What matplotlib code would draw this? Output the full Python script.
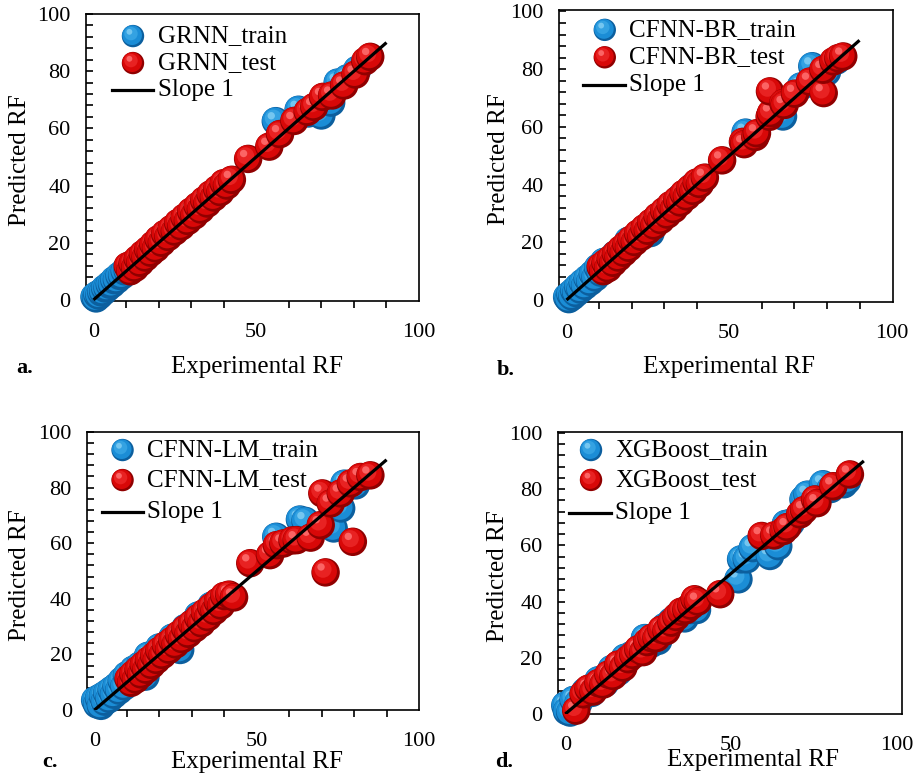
import numpy as np
import matplotlib
matplotlib.use("Agg")
import matplotlib.pyplot as plt
from matplotlib.path import Path
from matplotlib.collections import PathCollection
from matplotlib.transforms import IdentityTransform
from matplotlib.ticker import MultipleLocator, FixedLocator
from matplotlib.colors import to_rgb

plt.rcParams['font.family'] = ['Liberation Serif', 'DejaVu Serif']

# ---- data ----
models = ['GRNN', 'CFNN-BR', 'CFNN-LM', 'XGBoost']
panel_tags = ['a.', 'b.', 'c.', 'd.']
slope_line = [0, 90]

grnn_train_x = [0.3, 0.8, 1.2, 1.8, 2.4, 3.0, 3.6, 4.3, 5.0, 5.7, 6.4, 7.2, 8.0, 8.8, 9.6, 10.5,
                12, 14, 16, 18, 20, 22, 24, 26, 28, 30, 32, 34, 36, 38, 40,
                56, 63, 66, 70, 73, 75, 78, 81]
grnn_train_y = [1.0, 0.5, 1.8, 1.5, 2.6, 2.8, 4.0, 4.2, 5.3, 5.5, 6.9, 7.0, 8.4, 8.5, 10.0, 10.2,
                12.3, 13.8, 16.2, 17.9, 20.3, 21.8, 24.2, 25.9, 28.2, 29.8, 32.3, 33.7, 36.2, 37.8, 40.1,
                62.5, 66.5, 65.2, 64.5, 69.0, 76.0, 77.5, 80.5]
grnn_test_x = [10.5, 11.3, 12.0, 12.8, 13.6, 14.4, 15.2, 16.0, 16.8, 17.6, 18.4, 19.2, 20.0, 21, 22, 23,
               24, 25, 26, 27, 28, 29, 30, 31, 32, 33, 34, 35, 36, 37, 38, 39, 40, 41, 42.5,
               47.5, 54, 57.3, 61.7, 65.8, 67.8, 70.5, 73.3, 77, 80.5, 83.5, 85]
grnn_test_y = [11.8, 10.0, 12.6, 11.2, 14.3, 13.0, 16.0, 14.8, 17.5, 16.5, 19.3, 18.0, 21.2, 20.0, 23.1, 22.0,
               24.8, 23.9, 26.9, 25.7, 28.8, 27.6, 30.9, 29.5, 32.8, 31.6, 34.8, 33.7, 36.9, 35.8, 38.7, 37.7,
               40.8, 40.0, 42.0, 49.3, 53.6, 58.0, 62.6, 65.8, 67.5, 71.0, 71.5, 75.0, 78.8, 83.5, 85.0]

br_train_x = [0.2, 0.7, 1.2, 1.8, 2.4, 3.0, 3.6, 4.3, 5.0, 5.7, 6.5, 7.3, 8.1, 8.9, 9.7, 10.5,
              11.5, 13, 15, 17, 19, 21, 23, 25.8, 27, 29, 31, 33, 35, 37, 39, 41,
              55, 66.5, 72, 75.5, 80, 83]
br_train_y = [1.0, 0.3, 2.0, 1.2, 3.2, 2.4, 4.6, 3.6, 6.0, 4.9, 7.4, 6.3, 9.0, 7.8, 11.2, 9.5,
              13.2, 12.0, 15.8, 16.2, 20.5, 21.0, 23.5, 23.2, 27.5, 28.5, 31.5, 32.5, 35.5, 37.0, 39.5, 40.5,
              58, 63.6, 74, 81, 79, 83]
br_test_x = [10.5, 11.3, 12.0, 12.8, 13.6, 14.4, 15.2, 16.0, 16.8, 17.6, 18.4, 19.2, 20.0, 21, 22, 23,
             24, 25, 26, 27, 28, 29, 30, 31, 32, 33, 34, 35, 36, 37, 38, 39, 40, 41, 42.5,
             47.8, 54.2, 54.6, 58.0, 58.5, 62.4, 62.8, 62.5, 66.6, 67.0, 70.2, 74.8, 79.0, 78.9, 82.0, 83.5, 85.0]
br_test_y = [11.5, 10.0, 12.8, 11.0, 14.2, 12.9, 15.9, 14.7, 17.6, 16.4, 19.2, 18.1, 21.0, 20.1, 23.0, 21.9,
             24.9, 24.0, 26.8, 25.8, 28.9, 27.7, 30.8, 29.6, 32.9, 31.5, 34.6, 33.8, 36.8, 35.9, 38.6, 37.8,
             40.7, 40.2, 42.4, 48.4, 54.8, 54.0, 56.5, 57.8, 63.5, 64.7, 72.3, 68.2, 67.6, 71.5, 75.7, 71.7,
             79.8, 82.7, 83.8, 84.4]

lm_train_x = [0.2, 0.8, 1.4, 2.0, 2.6, 3.2, 3.9, 4.6, 5.3, 6.0, 6.8, 7.6, 8.4, 9.2, 10, 11,
              12, 14, 15.7, 16.5, 18, 20, 22, 24, 26.4, 28, 30, 32, 34, 36, 38, 40,
              56, 63.3, 65, 73.7, 76, 77, 80.5]
lm_train_y = [3.5, 2.0, 4.2, 1.5, 5.0, 3.0, 6.0, 4.0, 7.2, 5.5, 8.5, 7.0, 10.5, 8.5, 12.5, 11.0,
              14.5, 16.0, 12.0, 19.5, 18.5, 22.5, 21.5, 26.0, 21.6, 29.5, 31.0, 34.0, 33.5, 37.5, 38.0, 40.5,
              62.3, 68.5, 68.0, 65.3, 72.5, 81.4, 80.8]
lm_test_x = [10.5, 11.3, 12.0, 12.8, 13.6, 14.4, 15.2, 16.0, 16.8, 17.6, 18.4, 19.2, 20.0, 21, 22, 23,
             24, 25, 26, 27, 28, 29, 30, 31, 32, 33, 34, 35, 36, 37, 38, 39, 40, 41.5, 43,
             48, 54.1, 56.2, 58.2, 61, 62.3, 66.6, 69.7, 70.2, 71.2, 72.8, 75.9, 79.6, 79, 82, 85]
lm_test_y = [11.2, 9.8, 12.9, 11.0, 14.6, 12.8, 16.2, 14.5, 17.9, 16.2, 19.4, 18.0, 21.3, 19.8, 23.3, 21.7,
             25.0, 23.6, 27.1, 25.5, 29.2, 27.4, 31.0, 29.4, 33.1, 31.2, 35.0, 33.4, 37.0, 35.6, 38.9, 37.6,
             41.0, 41.5, 40.5, 52.8, 55.7, 59.3, 59.9, 61.0, 61.1, 62.0, 66.5, 77.9, 49.5, 74.3, 77.9, 60.5,
             81.5, 83.8, 84.4]

xgb_train_x = [0, 0.5, 1.5, 2.5, 4, 6, 8, 10, 12, 14, 16, 18, 20, 22, 24, 26, 28, 30, 32, 34, 36, 38, 39.7,
               52.2, 53, 54.7, 56.5, 61.7, 64.2, 66.5, 68, 71.8, 73, 77.7, 80, 84, 85]
xgb_train_y = [3, 1, 0.5, 5, 4, 8, 7.5, 12, 11, 16, 15, 20, 21, 22, 27, 25, 26, 31, 33, 35, 34, 37, 37,
               47.9, 55, 55, 59, 56.2, 59.7, 67.6, 68, 76.3, 78, 81.7, 80, 81.7, 83]
xgb_test_x = [3.3, 5.5, 7, 8.5, 10, 11.5, 13, 14.5, 16, 17.5, 19, 20.5, 22, 23.5, 24.7, 26, 27.5, 29,
              30.5, 32, 33.5, 35, 36.5, 38, 39, 40, 46.7, 59.2, 63, 65.8, 67, 70.8, 72, 75.3, 76, 80.8, 85.8]
xgb_test_y = [1.2, 7, 9, 8, 11, 10.5, 14, 13.5, 17.6, 16.5, 19.5, 21, 23, 22, 25.6, 27, 27, 30,
              29.5, 32.5, 34.5, 36.4, 37, 38.5, 40.8, 40, 42.6, 63.3, 63.5, 65.1, 66.5, 71, 72.5, 76.3, 75,
              81, 85.2]

train_sets = [(grnn_train_x, grnn_train_y), (br_train_x, br_train_y),
              (lm_train_x, lm_train_y), (xgb_train_x, xgb_train_y)]
test_sets = [(grnn_test_x, grnn_test_y), (br_test_x, br_test_y),
             (lm_test_x, lm_test_y), (xgb_test_x, xgb_test_y)]

BLUE = ('#0c5f9e', '#1b8dd6', '#34a2e2', '#74c6f0')
RED = ('#900000', '#d80808', '#e82222', '#fb6464')


def spheres(ax, x, y, shades, size, trans=None):
    # each point is drawn as a few stacked circles so it looks like a ball
    layers = [(0.5, 0.0, 0.0), (0.44, -0.04, 0.04), (0.30, -0.09, 0.11), (0.13, -0.16, 0.19)]
    paths, colors = [], []
    for _ in range(len(x)):
        for (r, dx, dy), c in zip(layers, shades):
            paths.append(Path.circle((dx, dy), r))
            colors.append(to_rgb(c))
    offs = np.repeat(np.column_stack([x, y]), len(layers), axis=0)
    col = PathCollection(paths, sizes=[size], offsets=offs,
                         offset_transform=trans if trans is not None else ax.transData,
                         facecolors=colors, edgecolors='none', clip_on=False, zorder=3)
    col.set_transform(IdentityTransform())
    ax.add_collection(col, autolim=False)
    return col


fig = plt.figure(figsize=(9.22, 7.81), dpi=100)

axes_pos = [[0.0933, 0.6146, 0.3612, 0.3675],
            [0.6063, 0.6133, 0.3623, 0.3739],
            [0.0944, 0.0909, 0.3601, 0.3560],
            [0.6052, 0.0858, 0.3731, 0.3611]]
xlims = [(-2.3, 100), (-2.3, 100.3), (-2.3, 100), (-2.2, 101.5)]
ylims = [(-0.4, 100), (-0.7, 100.5), (0, 100), (0, 100.3)]
xlabel_xy = [(0.514, -0.230), (0.509, -0.223), (0.512, -0.187), (0.567, -0.163)]
ylabel_xy = [(-0.198, 0.491), (-0.180, 0.490), (-0.202, 0.486), (-0.175, 0.489)]
legend_geo = [  # marker x, train y, test y, line y, line x0, line x1, text x
    (0.141, 0.923, 0.829, 0.735, 0.078, 0.201, 0.216),
    (0.137, 0.932, 0.838, 0.743, 0.071, 0.198, 0.211),
    (0.107, 0.935, 0.827, 0.713, 0.044, 0.170, 0.182),
    (0.096, 0.936, 0.830, 0.712, 0.033, 0.154, 0.167),
]
tag_xy = [(25, 368), (506, 370), (50, 762), (504, 762)]

for i, name in enumerate(models):
    ax = fig.add_axes(axes_pos[i])
    ax.set_xlim(*xlims[i])
    ax.set_ylim(*ylims[i])

    tx, ty = train_sets[i]
    sx, sy = test_sets[i]
    spheres(ax, tx, ty, BLUE, 420)
    spheres(ax, sx, sy, RED, 420)
    ax.plot(slope_line, slope_line, color='black', lw=2.3, zorder=5, solid_capstyle='butt')

    for sp in ax.spines.values():
        sp.set_linewidth(1.2)

    ax.yaxis.set_major_locator(MultipleLocator(20))
    ax.yaxis.set_minor_locator(MultipleLocator(4))
    ax.tick_params(axis='y', which='both', direction='in', length=5, width=1.2,
                   pad=11, labelsize=16)
    ax.xaxis.set_major_locator(FixedLocator([0, 50, 100]))
    ax.xaxis.set_minor_locator(FixedLocator([10, 20, 30, 40, 50, 60, 70, 80, 90]))
    if i == 3:
        ax.tick_params(axis='x', which='both', length=0, pad=16, labelsize=16)
    else:
        ax.tick_params(axis='x', which='major', direction='out', length=0, pad=15.5, labelsize=16)
        ax.tick_params(axis='x', which='minor', direction='out', length=5, width=1.2)

    ax.set_xlabel('Experimental RF', fontsize=18, va='center', ha='center')
    ax.xaxis.set_label_coords(*xlabel_xy[i])
    ax.set_ylabel('Predicted RF', fontsize=18, va='center', ha='center')
    ax.yaxis.set_label_coords(*ylabel_xy[i])

    mx, y1, y2, y3, lx0, lx1, txx = legend_geo[i]
    spheres(ax, [mx], [y1], BLUE, 260, trans=ax.transAxes)
    spheres(ax, [mx], [y2], RED, 260, trans=ax.transAxes)
    ax.plot([lx0, lx1], [y3, y3], color='black', lw=2.3, transform=ax.transAxes, zorder=6)
    ax.text(txx, y1, name + '_train', transform=ax.transAxes, fontsize=18, va='center', ha='left')
    ax.text(txx, y2, name + '_test', transform=ax.transAxes, fontsize=18, va='center', ha='left')
    ax.text(txx, y3, 'Slope 1', transform=ax.transAxes, fontsize=18, va='center', ha='left')

    fig.text(tag_xy[i][0] / 922, 1 - tag_xy[i][1] / 781, panel_tags[i], fontsize=16,
             fontweight='bold', ha='center', va='center')

fig.savefig('out.png', dpi=100)
